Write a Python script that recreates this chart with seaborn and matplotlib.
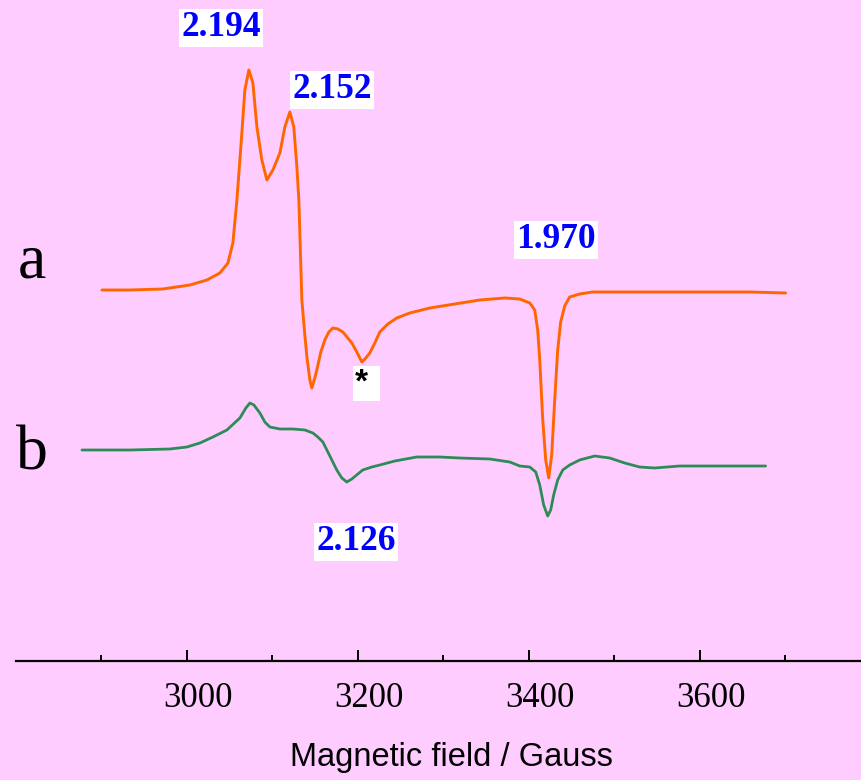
import matplotlib
matplotlib.use("Agg")
import matplotlib.pyplot as plt
import matplotlib.transforms as mtransforms
import numpy as np
import pandas as pd
import seaborn as sns

# spectrum a (orange), field in Gauss, intensity in arbitrary units
field_a = [2900.6, 2933.3, 2971.9, 3003.5, 3023.4, 3038.6, 3048.0, 3053.8, 3058.5, 3062.0,
           3064.3, 3067.8, 3072.5, 3077.2, 3081.9, 3087.7, 3093.6, 3100.6, 3108.8, 3114.6,
           3120.5, 3125.1, 3128.7, 3131.0, 3134.5, 3138.0, 3140.4, 3143.9, 3146.2, 3149.7,
           3152.0, 3156.7, 3161.4, 3166.1, 3170.8, 3176.6, 3182.5, 3193.0, 3198.8, 3204.7,
           3209.4, 3214.0, 3219.9, 3225.7, 3235.1, 3245.6, 3260.8, 3284.2, 3313.4, 3342.7,
           3371.9, 3389.5, 3401.2, 3407.0, 3410.5, 3412.9, 3416.4, 3419.9, 3423.4, 3426.9,
           3430.4, 3433.9, 3437.4, 3442.1, 3447.9, 3459.6, 3474.8, 3506.4, 3553.2, 3600.0,
           3658.5, 3700.6]
signal_a = [371, 371, 372, 376, 381, 388, 398, 418, 461, 501,
            528, 571, 591, 578, 534, 501, 481, 491, 508, 534,
            549, 534, 494, 461, 361, 326, 304, 281, 273, 283,
            291, 309, 321, 329, 333, 332, 329, 318, 309, 299,
            303, 308, 318, 329, 337, 343, 348, 353, 357, 361,
            363, 362, 358, 351, 331, 301, 241, 201, 183, 206,
            261, 311, 339, 355, 364, 367, 369, 369, 369, 369,
            369, 368]

# spectrum b (green)
field_b = [2877.2, 2933.3, 2980.1, 3000.0, 3015.2, 3030.4, 3046.8, 3062.0, 3069.0, 3073.7,
           3078.4, 3085.4, 3091.2, 3097.1, 3108.8, 3124.0, 3138.0, 3147.4, 3153.2, 3159.1,
           3167.3, 3175.4, 3181.3, 3187.1, 3193.0, 3200.0, 3205.8, 3216.4, 3225.7, 3243.3,
           3269.0, 3295.9, 3319.3, 3354.4, 3377.8, 3389.5, 3401.2, 3408.2, 3412.9, 3417.5,
           3422.2, 3425.7, 3429.2, 3433.9, 3439.8, 3447.9, 3459.6, 3477.2, 3494.7, 3512.3,
           3529.8, 3547.4, 3576.6, 3623.4, 3677.2]
signal_b = [211, 211, 212, 214, 218, 224, 231, 243, 253, 258,
            256, 248, 239, 234, 232, 232, 231, 228, 224, 219,
            205, 191, 183, 179, 182, 187, 191, 194, 196, 200,
            204, 204, 203, 202, 199, 195, 194, 189, 176, 156,
            145, 151, 166, 181, 191, 196, 201, 205, 203, 198,
            194, 193, 195, 195, 195]

# g-value labels: (text, field, intensity)
g_labels = ["2.194", "2.152", "1.970", "2.126"]
g_fields = [3040.0, 3170.0, 3432.0, 3198.0]
g_levels = [633, 571, 421, 119]

major_ticks = [3000, 3200, 3400, 3600]
minor_ticks = [2900, 3100, 3300, 3500, 3700]

sns.set_style("white")
plt.rcParams["font.family"] = ["Liberation Serif", "DejaVu Serif"]
plt.rcParams["xtick.direction"] = "in"
plt.rcParams["xtick.bottom"] = True
plt.rcParams["xtick.color"] = "black"

bg = "#FFCCFF"
fig = plt.figure(figsize=(8.62, 7.8), dpi=100, facecolor=bg)
ax = fig.add_axes([16 / 862, 119 / 780, 846 / 862, 661 / 780])
ax.set_facecolor(bg)

df_a = pd.DataFrame({"field": field_a, "signal": signal_a})
df_b = pd.DataFrame({"field": field_b, "signal": signal_b})
sns.lineplot(data=df_a, x="field", y="signal", ax=ax, color="#FF6600", linewidth=2.1)
sns.lineplot(data=df_b, x="field", y="signal", ax=ax, color="#2E8B57", linewidth=2.0)

ax.set_xlim(2800, 3790)
ax.set_ylim(0, 661)

for side in ["left", "top", "right"]:
    ax.spines[side].set_visible(False)
ax.spines["bottom"].set_color("black")
ax.spines["bottom"].set_linewidth(1.6)

ax.set_yticks([])
ax.set_ylabel("")
ax.set_xticks(major_ticks)
ax.set_xticks(minor_ticks, minor=True)
ax.set_xticklabels([str(t) for t in major_ticks], fontsize=25)
ax.tick_params(axis="x", which="both", bottom=True, direction="in", color="black")
ax.tick_params(axis="x", which="major", length=8, width=1.4, pad=15, labelcolor="black")
ax.tick_params(axis="x", which="minor", length=4.5, width=1.4)
shift = mtransforms.ScaledTranslation(11 / 100, 0, fig.dpi_scale_trans)
for lbl in ax.get_xticklabels():
    lbl.set_transform(lbl.get_transform() + shift)

ax.set_xlabel("Magnetic field / Gauss", fontsize=23.5, color="black",
              family=["Liberation Sans", "DejaVu Sans"])
ax.xaxis.set_label_coords(0.515, -0.122)

for txt, fx, lv in zip(g_labels, g_fields, g_levels):
    ax.text(fx, lv, txt, fontsize=25.5, fontweight="bold", color="#0000FF",
            ha="center", va="center",
            bbox=dict(facecolor="white", edgecolor="none", pad=1.5))

# asterisk marking the impurity feature
ax.text(3197, 278, "* ", fontsize=24, fontweight="bold", color="black",
        family=["Liberation Sans", "DejaVu Sans"], ha="left", va="center",
        bbox=dict(facecolor="white", edgecolor="none", pad=1.5))

ax.text(2818.7, 383, "a", fontsize=46, ha="center", va="baseline", color="black")
ax.text(2818.7, 191, "b", fontsize=46, ha="center", va="baseline", color="black")

fig.savefig("out.png", dpi=100, facecolor=bg)
